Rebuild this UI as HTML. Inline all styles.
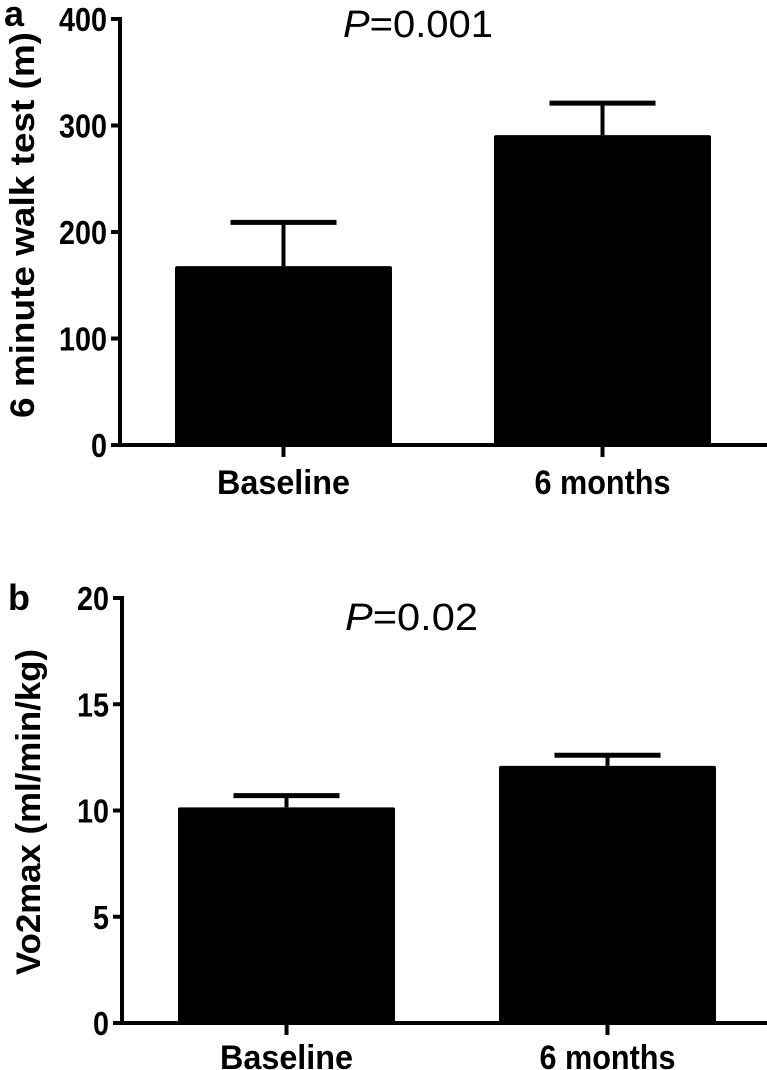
<!DOCTYPE html>
<html><head><meta charset="utf-8"><style>
html,body{margin:0;padding:0;background:#fff;}
svg{display:block;font-family:"Liberation Sans",Arial,sans-serif;}
</style></head><body>
<svg id="fig" width="767" height="1070" viewBox="0 0 767 1070" xmlns="http://www.w3.org/2000/svg"></svg>
<script>
const categories = ["Baseline", "6 months"];
const walkValues = [168, 291];
const walkErrors = [209, 321];
const walkTicks = [0, 100, 200, 300, 400];
const vo2Values = [10.15, 12.1];
const vo2Errors = [10.7, 12.6];
const vo2Ticks = [0, 5, 10, 15, 20];

const NS = "http://www.w3.org/2000/svg";
const svg = document.getElementById("fig");
function mk(tag, attrs, parent) {
  const e = document.createElementNS(NS, tag);
  for (const k in attrs) e.setAttribute(k, attrs[k]);
  (parent || svg).appendChild(e);
  return e;
}

function drawChart(cfg) {
  const g = mk("g", {});
  
  
  const y = v => cfg.y0 - (v - cfg.min) / (cfg.max - cfg.min) * (cfg.y0 - cfg.yTop);
  categories.forEach((c, i) => {
    const bx = cfg.barX[i];
    const top = y(cfg.values[i]);
    const bar = mk("rect", {x: bx, y: top, width: cfg.barW, height: cfg.y0 - top, fill: "#000", rx: 2}, g);
    
    
    const cx = bx + cfg.barW / 2;
    const et = y(cfg.errors[i]);
    const stem = mk("line", {x1: cx, x2: cx, y1: top, y2: et, stroke: "#000", "stroke-width": 4}, g);
    
    
    const cap = mk("line", {x1: cx - 53, x2: cx + 53, y1: et, y2: et, stroke: "#000", "stroke-width": 5}, g);
    
    
    const tk = mk("line", {x1: cx, x2: cx, y1: cfg.y0, y2: cfg.y0 + 12, stroke: "#000", "stroke-width": 4}, g);
    
    
    const lb = mk("text", {x: cx, y: cfg.xLabelY, "text-anchor": "middle", "font-size": 34, "font-weight": "bold", textLength: cfg.labelW[i], lengthAdjust: "spacingAndGlyphs"}, g);
    lb.textContent = c;
    
    
  });
  const ya = mk("line", {x1: cfg.axX, x2: cfg.axX, y1: cfg.yTop - 2, y2: cfg.y0 + 2, stroke: "#000", "stroke-width": 4}, g);
  
  
  const xa = mk("line", {x1: cfg.axX - 9, x2: 767, y1: cfg.y0, y2: cfg.y0, stroke: "#000", "stroke-width": 4}, g);
  
  
  cfg.ticks.forEach(t => {
    const ty = y(t);
    const tl = mk("line", {x1: cfg.axX - 9, x2: cfg.axX, y1: ty, y2: ty, stroke: "#000", "stroke-width": 4}, g);
    
    
    const s = String(t);
    const tx = mk("text", {x: cfg.axX - 13, y: ty + 12, "text-anchor": "end", "font-size": 33, "font-weight": "bold", textLength: s.length * 16, lengthAdjust: "spacingAndGlyphs"}, g);
    tx.textContent = s;
    
    
  });
  const yt = mk("text", {x: 0, y: 0, "text-anchor": "middle", "font-size": 34, "font-weight": "bold", transform: "translate(" + cfg.titleX + "," + cfg.titleY + ") rotate(-90)", textLength: cfg.titleLen, lengthAdjust: "spacingAndGlyphs"}, g);
  yt.textContent = cfg.title;
  
  
  const pt = mk("text", {x: cfg.pX, y: cfg.pY, "font-size": 38, textLength: cfg.pLen, lengthAdjust: "spacingAndGlyphs"}, g);
  const it = mk("tspan", {"font-style": "italic"}, pt); it.textContent = "P";
  const rt = mk("tspan", {}, pt); rt.textContent = cfg.pText;
  
  
  const pl = mk("text", {x: cfg.letterX, y: cfg.letterY, "font-size": 36, "font-weight": "bold"}, g);
  pl.textContent = cfg.letter;
  
  
}

drawChart({name: "chart-a-walk-test", values: walkValues, errors: walkErrors, ticks: walkTicks,
  min: 0, max: 400, y0: 445, yTop: 19, axX: 120, barX: [175, 494], barW: 217,
  xLabelY: 494, labelW: [133, 136], title: "6 minute walk test  (m)", titleX: 34, titleY: 225, titleLen: 386,
  pX: 343, pY: 37, pLen: 150, pText: "=0.001", letter: "a", letterX: 4, letterY: 26});
drawChart({name: "chart-b-vo2max", values: vo2Values, errors: vo2Errors, ticks: vo2Ticks,
  min: 0, max: 20, y0: 1023, yTop: 598, axX: 122, barX: [178, 499], barW: 217,
  xLabelY: 1069, labelW: [133, 136], title: "Vo2max (ml/min/kg)", titleX: 40, titleY: 812, titleLen: 326,
  pX: 345, pY: 630, pLen: 133, pText: "=0.02", letter: "b", letterX: 8, letterY: 610});
</script>
</body></html>
